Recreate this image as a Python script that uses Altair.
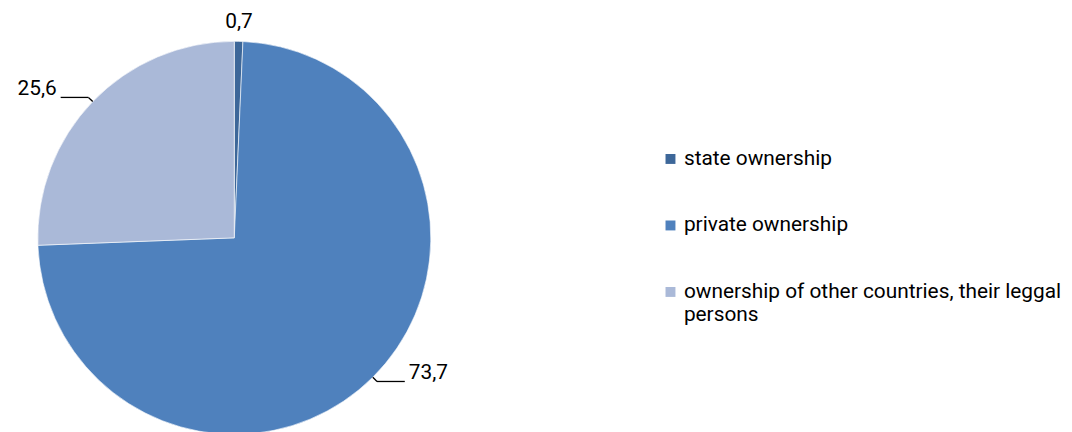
import altair as alt
import pandas as pd

categories = ["state ownership", "private ownership",
              "ownership of other countries, their leggal persons"]
values = [0.7, 73.7, 25.6]
colors = ["#3D6799", "#4F81BD", "#AAB9D8"]

df = pd.DataFrame({"category": categories, "value": values,
                   "order": list(range(len(categories)))})

CX, CY, R = 228, 230, 198
R2, L = 204, 28
FONT = "Roboto"
FS = 21

base = alt.Chart(df).transform_joinaggregate(
    total="sum(value)"
).transform_window(
    cum="sum(value)", sort=[alt.SortField("order")], frame=[None, 0]
).transform_calculate(
    mid=f"(datum.cum - datum.value/2)/datum.total*2*PI",
).transform_calculate(
    side="sin(datum.mid) >= 0 ? 1 : -1",
    ex=f"{CX} + {R}*sin(datum.mid)",
    ey=f"{CY} - {R}*cos(datum.mid)",
    bx=f"{CX} + {R2}*sin(datum.mid)",
    by=f"{CY} - {R2}*cos(datum.mid)",
    lx=f"{CX} + 218*sin(datum.mid)",
    ly=f"{CY} - 218*cos(datum.mid)",
    txt="replace(format(datum.value, '.1f'), '.', ',')",
).transform_calculate(
    tx=f"datum.bx + datum.side*{L}",
)

arcs = alt.Chart(df).mark_arc(outerRadius=R, stroke="white", strokeWidth=0.6).encode(
    theta=alt.Theta("value:Q", stack=True),
    order=alt.Order("order:Q"),
    color=alt.Color("category:N",
                    scale=alt.Scale(domain=categories, range=colors),
                    sort=categories,
                    legend=alt.Legend(
                        title=None, orient="none", legendX=657, legendY=140,
                        symbolType="square", symbolSize=100, symbolStrokeWidth=0,
                        labelFont=FONT, labelFontSize=FS, labelColor="#000000",
                        labelLimit=600, rowPadding=45, labelOffset=3,
                        labelExpr="datum.label == 'ownership of other countries, their leggal persons' ? ['ownership of other countries, their leggal', 'persons'] : datum.label",
                    )),
    x=alt.value(CX), y=alt.value(CY),
)

big = base.transform_filter("datum.value >= 5")

leader1 = big.mark_rule(color="#000000", strokeWidth=1.3).encode(
    x=alt.X("ex:Q", scale=None), y=alt.Y("ey:Q", scale=None),
    x2="bx:Q", y2="by:Q")
leader2 = big.mark_rule(color="#000000", strokeWidth=1.3).encode(
    x=alt.X("bx:Q", scale=None), y=alt.Y("by:Q", scale=None),
    x2="tx:Q", y2="by:Q")

right_lbl = big.transform_filter("datum.side > 0").mark_text(
    align="left", baseline="middle", dx=4, dy=-8, font=FONT, fontSize=FS, color="#000000"
).encode(x=alt.X("tx:Q", scale=None), y=alt.Y("by:Q", scale=None), text="txt:N")
left_lbl = big.transform_filter("datum.side < 0").mark_text(
    align="right", baseline="middle", dx=-4, dy=-8, font=FONT, fontSize=FS, color="#000000"
).encode(x=alt.X("tx:Q", scale=None), y=alt.Y("by:Q", scale=None), text="txt:N")
small_lbl = base.transform_filter("datum.value < 5").mark_text(
    align="center", baseline="middle", font=FONT, fontSize=FS, color="#000000"
).encode(x=alt.X("lx:Q", scale=None), y=alt.Y("ly:Q", scale=None), text="txt:N")

chart = alt.layer(arcs, leader1, leader2, right_lbl, left_lbl, small_lbl).properties(
    width=1064, height=424, autosize=alt.AutoSizeParams(type="none"), padding=0,
    background="white"
).configure_view(strokeWidth=0, stroke=None)

chart.save("out.html", embed_options={"renderer": "svg", "actions": False})
